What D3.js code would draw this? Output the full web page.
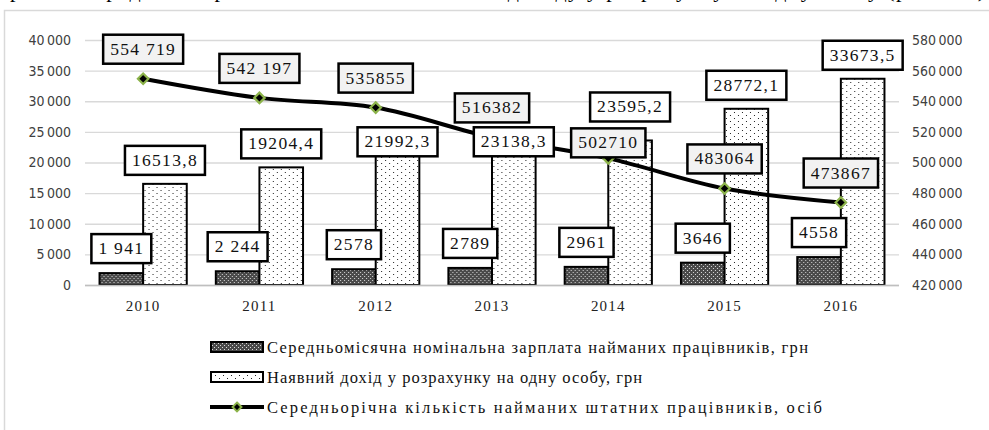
<!DOCTYPE html>
<html>
<head>
<meta charset="utf-8">
<script src="https://cdn.jsdelivr.net/npm/d3@7/dist/d3.min.js"></script>
<style>
  body { margin: 0; background: #fff; }
  svg { display: block; }
</style>
</head>
<body>
<div id="chart"></div>
<script>
const years = ['2010', '2011', '2012', '2013', '2014', '2015', '2016'];
const wages = [1941, 2244, 2578, 2789, 2961, 3646, 4558];
const wageLabels = ['1 941', '2 244', '2578', '2789', '2961', '3646', '4558'];
const income = [16513.8, 19204.4, 21992.3, 23138.3, 23595.2, 28772.1, 33673.5];
const incomeLabels = ['16513,8', '19204,4', '21992,3', '23138,3', '23595,2', '28772,1', '33673,5'];
const workers = [554719, 542197, 535855, 516382, 502710, 483064, 473867];
const workerLabels = ['554 719', '542 197', '535855', '516382', '502710', '483064', '473867'];
const leftTicks = [0, 5000, 10000, 15000, 20000, 25000, 30000, 35000, 40000];
const rightTicks = [420000, 440000, 460000, 480000, 500000, 520000, 540000, 560000, 580000];
const legendNames = [
  'Середньомісячна номінальна зарплата найманих працівників, грн',
  'Наявний дохід у розрахунку на одну особу, грн',
  'Середньорічна кількість найманих штатних працівників, осіб'
];

// nudges so labels don't collide (px, relative to default placement)
const incomeNudge = {'2012': 15, '2013': 22, '2014': -10};
const workerNudge = {'2014': 14};

const W = 989, H = 430;
const fmt = d3.formatLocale({decimal: ',', thousands: '\u2009', grouping: [3], currency: ['', '']}).format(',');

const svg = d3.select('#chart').append('svg')
  .attr('width', W).attr('height', H);

const defs = svg.append('defs');
const dark = defs.append('pattern').attr('id', 'pDark')
  .attr('patternUnits', 'userSpaceOnUse').attr('width', 4).attr('height', 4);
dark.append('rect').attr('width', 4).attr('height', 4).attr('fill', '#4a4a4a');
dark.append('rect').attr('x', 0).attr('y', 0).attr('width', 1).attr('height', 1).attr('fill', '#d8d8d8');
dark.append('rect').attr('x', 2).attr('y', 2).attr('width', 1).attr('height', 1).attr('fill', '#d8d8d8');

const dots = defs.append('pattern').attr('id', 'pDots')
  .attr('patternUnits', 'userSpaceOnUse').attr('width', 8).attr('height', 6);
dots.append('rect').attr('width', 8).attr('height', 6).attr('fill', '#fff');
dots.append('rect').attr('x', 1).attr('y', 1).attr('width', 1).attr('height', 1).attr('fill', '#222');
dots.append('rect').attr('x', 5).attr('y', 4).attr('width', 1).attr('height', 1).attr('fill', '#222');

// cut-off sentence above the frame (only the descenders show)
svg.append('text')
  .attr('x', 10).attr('y', -3)
  .attr('font-family', 'Liberation Serif').attr('font-size', 22)
  .attr('textLength', 975).attr('lengthAdjust', 'spacing')
  .text('рівень середньої заробітної плати та наявного доходу у розрахунку на одну особу (рис. 3.3)');

// frame
svg.append('rect')
  .attr('x', 4.5).attr('y', 10.5).attr('width', W).attr('height', H)
  .attr('fill', '#fff').attr('stroke', '#d9d9d9').attr('stroke-width', 1.5);

const x = d3.scaleBand().domain(years).range([85, 899])
  .paddingInner(0.25).paddingOuter(0.125);
const xs = d3.scaleBand().domain(['wage', 'income']).range([0, x.bandwidth()]);
const yL = d3.scaleLinear().domain([0, 40000]).range([285, 40]);
const yR = d3.scaleLinear().domain([420000, 580000]).range([285, 40]);

// gridlines
svg.append('g')
  .attr('transform', 'translate(85,0)')
  .call(d3.axisLeft(yL).tickValues(leftTicks).tickSize(-814).tickFormat(''))
  .call(g => g.select('.domain').remove())
  .call(g => g.selectAll('line').attr('stroke', '#d9d9d9').attr('stroke-width', 1.3));

// left axis labels
svg.append('g')
  .attr('transform', 'translate(71,0)')
  .call(d3.axisLeft(yL).tickValues(leftTicks).tickSize(0).tickPadding(0).tickFormat(fmt))
  .call(g => g.select('.domain').remove())
  .call(g => g.selectAll('text')
    .attr('font-family', 'DejaVu Sans Condensed').attr('font-size', 14).attr('fill', '#404040'));

// right axis labels
svg.append('g')
  .attr('transform', 'translate(912,0)')
  .call(d3.axisRight(yR).tickValues(rightTicks).tickSize(0).tickPadding(0).tickFormat(fmt))
  .call(g => g.select('.domain').remove())
  .call(g => g.selectAll('text')
    .attr('font-family', 'DejaVu Sans Condensed').attr('font-size', 14).attr('fill', '#404040'));

// bars
const groups = svg.append('g').selectAll('g').data(years).join('g')
  .attr('transform', d => `translate(${x(d)},0)`);

groups.append('rect')
  .attr('x', xs('wage')).attr('width', xs.bandwidth())
  .attr('y', (d, i) => yL(wages[i]))
  .attr('height', (d, i) => yL(0) - yL(wages[i]))
  .attr('fill', 'url(#pDark)').attr('stroke', '#000').attr('stroke-width', 2);

groups.append('rect')
  .attr('x', xs('income')).attr('width', xs.bandwidth())
  .attr('y', (d, i) => yL(income[i]))
  .attr('height', (d, i) => yL(0) - yL(income[i]))
  .attr('fill', 'url(#pDots)').attr('stroke', '#000').attr('stroke-width', 2);

// x axis
svg.append('line')
  .attr('x1', 85).attr('x2', 899).attr('y1', 285.5).attr('y2', 285.5)
  .attr('stroke', '#bfbfbf').attr('stroke-width', 1.3);

svg.append('g')
  .attr('transform', 'translate(0,285)')
  .call(d3.axisBottom(x).tickSize(0).tickPadding(15))
  .call(g => g.select('.domain').remove())
  .call(g => g.selectAll('text')
    .attr('font-family', 'Liberation Serif').attr('font-size', 15)
    .attr('letter-spacing', 1.2).attr('fill', '#222'));

// line
const cx = d => x(d) + x.bandwidth() / 2;
const line = d3.line().x(d => cx(d)).y((d, i) => yR(workers[i])).curve(d3.curveMonotoneX);
svg.append('path')
  .datum(years)
  .attr('d', line)
  .attr('fill', 'none').attr('stroke', '#000').attr('stroke-width', 4);

svg.append('g').selectAll('path').data(years).join('path')
  .attr('transform', (d, i) => `translate(${cx(d)},${yR(workers[i])})`)
  .attr('d', d3.symbol(d3.symbolDiamond2, 70))
  .attr('fill', '#000').attr('stroke', '#8cb34a').attr('stroke-width', 2.2);

// data labels
function boxLabel(g, cxp, bottom, txt, fill) {
  const t = g.append('text')
    .attr('x', cxp).attr('y', bottom - 9)
    .attr('text-anchor', 'middle')
    .attr('font-family', 'Liberation Serif').attr('font-size', 17.5)
    .attr('letter-spacing', 1.3).attr('fill', '#111')
    .text(txt);
  const bb = t.node().getBBox();
  const w = bb.width + 14, h = 29;
  g.insert('rect', 'text')
    .attr('x', cxp - w / 2).attr('y', bottom - h)
    .attr('width', w).attr('height', h)
    .attr('fill', fill).attr('stroke', '#000').attr('stroke-width', 2.5);
}

const labels = svg.append('g');
years.forEach((yr, i) => {
  const gx = x(yr);
  boxLabel(labels.append('g'), gx + xs('wage') + xs.bandwidth() / 2,
    yL(wages[i]) - 10, wageLabels[i], '#fff');
  boxLabel(labels.append('g'), gx + xs('income') + xs.bandwidth() / 2,
    yL(income[i]) - 9 + (incomeNudge[yr] || 0), incomeLabels[i], '#fff');
});
years.forEach((yr, i) => {
  boxLabel(labels.append('g'), cx(yr),
    yR(workers[i]) - 15 + (workerNudge[yr] || 0), workerLabels[i], '#f2f2f2');
});

// legend
const legend = svg.append('g').attr('transform', 'translate(210,347)');
const legendEnds = [808, 642, 822];
legendNames.forEach((name, i) => {
  const row = legend.append('g').attr('transform', `translate(0,${i * 30})`);
  if (i < 2) {
    row.append('rect')
      .attr('x', 1).attr('y', -5).attr('width', 52).attr('height', 10)
      .attr('fill', i === 0 ? 'url(#pDark)' : 'url(#pDots)')
      .attr('stroke', '#000').attr('stroke-width', 2);
  } else {
    row.append('line').attr('x1', 0).attr('x2', 54).attr('y1', 0).attr('y2', 0)
      .attr('stroke', '#000').attr('stroke-width', 4);
    row.append('path').attr('transform', 'translate(27,0)')
      .attr('d', d3.symbol(d3.symbolDiamond2, 50))
      .attr('fill', '#000').attr('stroke', '#8cb34a').attr('stroke-width', 2);
  }
  row.append('text')
    .attr('x', 57).attr('y', 5.5)
    .attr('font-family', 'Liberation Serif').attr('font-size', 16.5)
    .attr('fill', '#111')
    .attr('textLength', legendEnds[i] - 267).attr('lengthAdjust', 'spacing')
    .text(name);
});
</script>
</body>
</html>
